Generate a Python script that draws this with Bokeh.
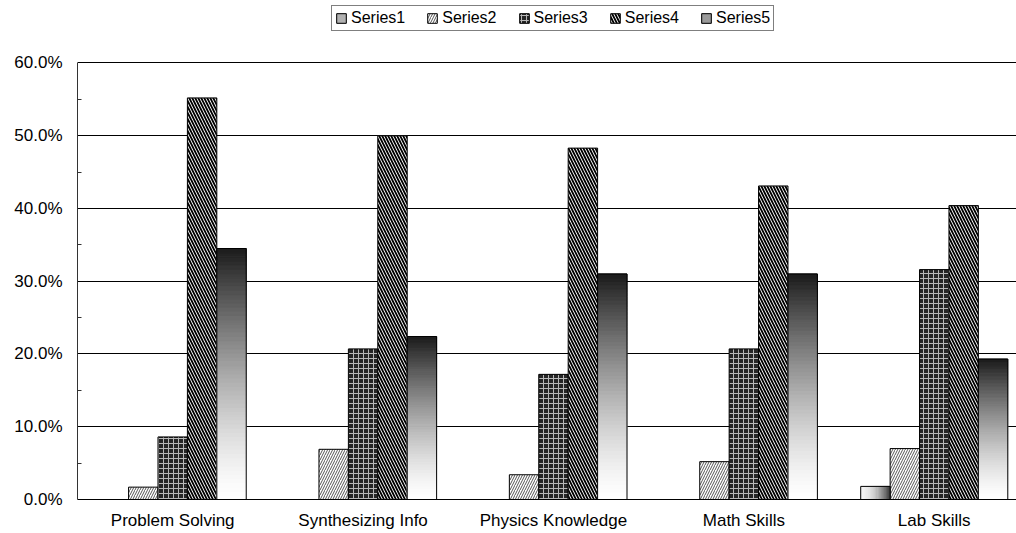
import numpy as np
from bokeh.plotting import figure
from bokeh.models import ColumnDataSource, FixedTicker, Legend, LegendItem, Range1d
from bokeh.embed import file_html
from bokeh.resources import INLINE

# ---------------- data ----------------
categories = ["Problem Solving", "Synthesizing Info", "Physics Knowledge", "Math Skills", "Lab Skills"]
series_names = ["Series1", "Series2", "Series3", "Series4", "Series5"]
series1 = [0.0, 0.0, 0.0, 0.0, 1.8]
series2 = [1.7, 6.9, 3.4, 5.2, 7.0]
series3 = [8.6, 20.7, 17.2, 20.7, 31.6]
series4 = [55.2, 50.0, 48.3, 43.1, 40.4]
series5 = [34.5, 22.4, 31.0, 31.0, 19.3]
y_ticks = [0, 10, 20, 30, 40, 50, 60]
y_minor_ticks = [5, 15, 25, 35, 45, 55]
y_tick_labels = ["0.0%", "10.0%", "20.0%", "30.0%", "40.0%", "50.0%", "60.0%"]

FONT = "Liberation Sans"
BAR_W = 0.1545          # width of one bar in category units
N_SLICES = 60           # slices used to emulate gradient fills
Y_AXIS_MAX = 60
Y_VIEW_TOP = 68.04      # frame extends above the axis so the legend fits inside it

centers = [i + 0.5 for i in range(len(categories))]
offsets = [(k - 2) * BAR_W for k in range(5)]

p = figure(width=1016, height=533, output_backend="svg", toolbar_location=None,
           x_range=Range1d(0, 4.932), y_range=Range1d(0, Y_VIEW_TOP),
           min_border_left=77, min_border_right=0, min_border_top=4, min_border_bottom=34)
p.outline_line_color = None
p.background_fill_color = "white"
p.border_fill_color = "white"

def xs_for(k):
    return [c + offsets[k] for c in centers]

def rotate(d, k):
    return {key: val[k:] + val[:k] for key, val in d.items()}

# ---------------- hatched series ----------------
src2 = ColumnDataSource(dict(x=xs_for(1), top=series2))
r2 = p.vbar(x="x", top="top", width=BAR_W, source=src2, fill_color="white",
            hatch_pattern="/", hatch_color="#555555", hatch_scale=5, hatch_weight=1,
            line_color="black", line_width=1)

src3 = ColumnDataSource(dict(x=xs_for(2), top=series3))
r3 = p.vbar(x="x", top="top", width=BAR_W, source=src3, fill_color="#262626",
            hatch_pattern="+", hatch_color="#b8b8b8", hatch_scale=5, hatch_weight=1,
            line_color="black", line_width=1)

src4 = ColumnDataSource(dict(x=xs_for(3), top=series4))
r4 = p.vbar(x="x", top="top", width=BAR_W, source=src4, fill_color="white",
            hatch_pattern="\\", hatch_color="black", hatch_scale=6, hatch_weight=1.8,
            line_color="black", line_width=1)

# ---------------- gradient series ----------------
# Series5: vertical gradient, dark top -> white bottom (per bar)
d5 = dict(left=[], right=[], bottom=[], top=[], color=[])
for c, v in zip(xs_for(4), series5):
    for j in range(N_SLICES):
        t = (j + 0.5) / N_SLICES
        g = int(round(255 - 228 * t ** 1.4))
        d5["left"].append(c - BAR_W / 2); d5["right"].append(c + BAR_W / 2)
        d5["bottom"].append(v * j / N_SLICES); d5["top"].append(v * (j + 1) / N_SLICES)
        d5["color"].append("#%02x%02x%02x" % (g, g, g))
d5 = rotate(d5, int(N_SLICES * 0.55))   # first row = mid-grey slice (used for legend icon)
g5 = p.quad(left="left", right="right", bottom="bottom", top="top", fill_color="color",
            line_color="color", line_width=1, source=ColumnDataSource(d5))
o5 = p.vbar(x=xs_for(4), top=series5, width=BAR_W, fill_color=None, line_color="black", line_width=1)

# Series1: horizontal gradient, light left -> dark right
NS1 = 24
d1 = dict(left=[], right=[], bottom=[], top=[], color=[])
for c, v in zip(xs_for(0), series1):
    if v <= 0:
        continue
    for j in range(NS1):
        t = (j + 0.5) / NS1
        g = int(round(245 - 185 * t ** 2))
        d1["left"].append(c - BAR_W / 2 + BAR_W * j / NS1)
        d1["right"].append(c - BAR_W / 2 + BAR_W * (j + 1) / NS1)
        d1["bottom"].append(0); d1["top"].append(v)
        d1["color"].append("#%02x%02x%02x" % (g, g, g))
d1 = rotate(d1, int(NS1 * 0.6))
g1 = p.quad(left="left", right="right", bottom="bottom", top="top", fill_color="color",
            line_color="color", line_width=1, source=ColumnDataSource(d1))
o1 = p.vbar(x=[x for x, v in zip(xs_for(0), series1) if v > 0],
            top=[v for v in series1 if v > 0], width=BAR_W, fill_color=None, line_color="black", line_width=1)

# ---------------- axes ----------------
p.xaxis.ticker = FixedTicker(ticks=centers)
p.xaxis.major_label_overrides = {c: lab for c, lab in zip(centers, categories)}
p.xaxis.major_tick_line_color = None
p.xaxis.minor_tick_line_color = None
p.xaxis.axis_line_color = "black"
p.xaxis.major_label_standoff = 5
p.xaxis.major_label_text_font = FONT
p.xaxis.major_label_text_font_size = "17px"
p.xaxis.major_label_text_color = "black"

p.yaxis.bounds = (0, Y_AXIS_MAX)
p.yaxis.ticker = FixedTicker(ticks=y_ticks, minor_ticks=y_minor_ticks)
p.yaxis.major_label_overrides = {t: lab for t, lab in zip(y_ticks, y_tick_labels)}
p.yaxis.major_tick_in = 0
p.yaxis.major_tick_out = 0
p.yaxis.minor_tick_in = 4
p.yaxis.minor_tick_out = 0
p.yaxis.minor_tick_line_color = "#333333"
p.yaxis.axis_line_color = "#333333"
p.yaxis.major_label_standoff = 15
p.yaxis.major_label_text_font = FONT
p.yaxis.major_label_text_font_size = "17px"
p.yaxis.major_label_text_color = "black"

p.xgrid.grid_line_color = None
p.ygrid.grid_line_color = "black"
p.ygrid.grid_line_width = 1

# ---------------- legend ----------------
items = [LegendItem(label=series_names[0], renderers=[g1, o1], index=0),
         LegendItem(label=series_names[1], renderers=[r2]),
         LegendItem(label=series_names[2], renderers=[r3]),
         LegendItem(label=series_names[3], renderers=[r4]),
         LegendItem(label=series_names[4], renderers=[g5, o5], index=0)]
legend = Legend(items=items, location=(254, 468), orientation="horizontal",
                border_line_color="black", border_line_width=1, padding=3, spacing=21,
                label_standoff=4, glyph_width=12, glyph_height=12, label_height=14,
                label_text_font=FONT, label_text_font_size="16px", label_text_color="black",
                margin=0, background_fill_color="white", background_fill_alpha=1)
p.add_layout(legend, "center")

open("out.html", "w").write(file_html(p, INLINE))
